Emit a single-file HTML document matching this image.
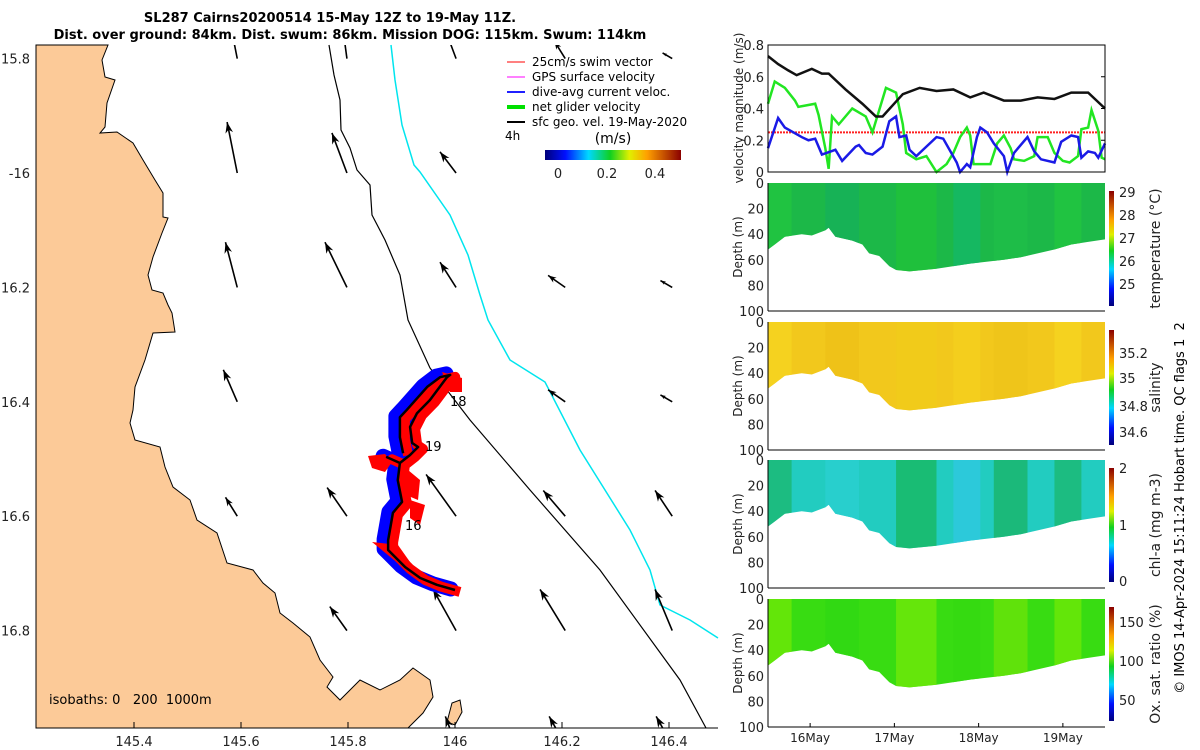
<!DOCTYPE html>
<html><head><meta charset="utf-8"><style>
body{margin:0;background:#fff;}
svg{display:block;font-family:"DejaVu Sans","Liberation Sans",sans-serif;}
</style></head><body>
<svg id="fig" width="1200" height="750" viewBox="0 0 1200 750">
<defs>
<linearGradient id="jetH" x1="0" x2="1" y1="0" y2="0">
<stop offset="0" stop-color="#00007a"/><stop offset="0.15" stop-color="#0010ff"/><stop offset="0.32" stop-color="#00d8ff"/><stop offset="0.48" stop-color="#10d020"/><stop offset="0.62" stop-color="#e0f000"/><stop offset="0.75" stop-color="#ffa000"/><stop offset="1" stop-color="#8a0000"/></linearGradient>
<linearGradient id="jetV" x1="0" x2="0" y1="1" y2="0">
<stop offset="0" stop-color="#00007a"/><stop offset="0.15" stop-color="#0010ff"/><stop offset="0.32" stop-color="#00d8ff"/><stop offset="0.48" stop-color="#10d020"/><stop offset="0.62" stop-color="#e0f000"/><stop offset="0.75" stop-color="#ffa000"/><stop offset="1" stop-color="#8a0000"/></linearGradient>
<clipPath id="mapClip"><rect x="36" y="45" width="682" height="683"/></clipPath>
</defs>
<g id="map"></g>
<g id="right"></g>
<text x="330" y="22" text-anchor="middle" font-size="13" font-weight="bold">SL287 Cairns20200514 15-May 12Z to 19-May 11Z.</text>
<text x="350" y="39" text-anchor="middle" font-size="13" font-weight="bold">Dist. over ground: 84km. Dist. swum: 86km. Mission DOG: 115km. Swum: 114km</text>
<text transform="translate(1184,508) rotate(-90)" text-anchor="middle" font-size="13">© IMOS 14-Apr-2024 15:11:24 Hobart time. QC flags 1&#160;&#160;2</text>
</svg>
<script>
// ---------- data ----------
const lonTicks=[145.4,145.6,145.8,146,146.2,146.4];
const latTicks=[15.8,16,16.2,16.4,16.6,16.8];
const latTickLabels=["15.8","-16","16.2","16.4","16.6","16.8"];
const trackLon=[146.000,145.966,145.935,145.907,145.875,145.875,145.884,145.901,145.893,145.897,145.873,145.897,145.916,145.931,145.920,145.916,145.929,145.953,145.985,145.991,145.972,145.948,145.910,145.897,145.897,145.903];
const trackLat=[16.729,16.720,16.708,16.689,16.659,16.642,16.594,16.575,16.537,16.507,16.497,16.507,16.493,16.479,16.472,16.444,16.420,16.397,16.357,16.353,16.357,16.374,16.414,16.427,16.462,16.490];
const quiverLon=[145.593,145.798,146.002,146.206,146.406];
const quiverLat=[15.8,16.0,16.2,16.4,16.6,16.8,17.0];
const quiverU=[[-0.019,-0.01,-0.02,-0.02,-0.018],[-0.019,-0.028,-0.03,0,0],[-0.022,-0.041,-0.03,-0.032,-0.022],[-0.026,0,0,-0.032,-0.022],[-0.022,-0.037,-0.056,-0.041,-0.032],[0,-0.032,-0.043,-0.047,-0.032],[0,0,-0.02,-0.03,-0.03]];
const quiverV=[[0.09,0.07,0.05,0.03,0.01],[0.089,0.07,0.037,0,0],[0.079,0.079,0.044,0.021,0.012],[0.056,0,0,0.021,0.012],[0.033,0.05,0.073,0.045,0.045],[0,0.042,0.072,0.072,0.072],[0,0,0.05,0.05,0.05]];
const velTicks=[0,0.2,0.4,0.6,0.8];
const dayTicks=[16,17,18,19];
const dayTickLabels=["16May","17May","18May","19May"];
const blackDay=[15.5,15.62,15.74,15.84,16.02,16.14,16.22,16.42,16.62,16.78,16.86,16.98,17.1,17.3,17.5,17.7,17.9,18.06,18.3,18.5,18.7,18.9,19.1,19.3,19.5];
const blackVel=[0.73,0.68,0.64,0.61,0.65,0.62,0.62,0.52,0.43,0.35,0.35,0.42,0.49,0.53,0.51,0.52,0.47,0.50,0.45,0.45,0.47,0.46,0.50,0.50,0.40];
const greenDay=[15.5,15.58,15.7,15.82,15.86,16.06,16.1,16.18,16.22,16.26,16.34,16.5,16.66,16.74,16.9,17.02,17.1,17.14,17.26,17.38,17.5,17.62,17.7,17.78,17.86,17.9,17.94,18.06,18.14,18.22,18.3,18.38,18.42,18.54,18.66,18.7,18.82,18.9,19.0,19.08,19.18,19.22,19.3,19.34,19.42,19.46,19.5];
const greenVel=[0.43,0.57,0.53,0.45,0.41,0.43,0.36,0.15,0.02,0.35,0.30,0.40,0.35,0.25,0.53,0.50,0.30,0.12,0.08,0.10,0.0,0.05,0.12,0.22,0.28,0.23,0.05,0.05,0.05,0.18,0.23,0.15,0.08,0.07,0.10,0.22,0.22,0.12,0.07,0.06,0.10,0.27,0.28,0.39,0.26,0.09,0.08];
const blueDay=[15.5,15.62,15.7,15.9,15.98,16.06,16.1,16.14,16.3,16.38,16.54,16.58,16.66,16.74,16.86,16.94,17.02,17.06,17.14,17.18,17.26,17.38,17.5,17.58,17.74,17.78,17.86,17.9,17.98,18.02,18.1,18.18,18.3,18.34,18.42,18.58,18.66,18.74,18.9,18.98,19.1,19.18,19.22,19.3,19.38,19.42,19.5];
const blueVel=[0.15,0.34,0.28,0.22,0.20,0.21,0.16,0.11,0.14,0.07,0.16,0.17,0.12,0.11,0.16,0.32,0.35,0.22,0.23,0.14,0.10,0.16,0.22,0.21,0.06,0.0,0.05,0.03,0.22,0.28,0.25,0.18,0.10,0.0,0.12,0.22,0.13,0.08,0.06,0.19,0.23,0.22,0.09,0.13,0.12,0.09,0.18];
const swimRef=[0.25];
const depthTicks=[0,20,40,60,80,100];
const bottomDay=[15.5,15.58,15.7,15.9,16.02,16.18,16.22,16.3,16.5,16.62,16.7,16.82,16.94,17.02,17.18,17.5,17.9,18.3,18.5,18.7,18.9,19.1,19.3,19.5];
const bottomDepth=[52,48,42,40,41,37,35,42,45,48,55,57,65,68,69,67,63,60,58,55,52,48,46,44];
// ---------- helpers ----------
const NS="http://www.w3.org/2000/svg";
function mk(tag,attrs,parent){const e=document.createElementNS(NS,tag);for(const k in attrs)e.setAttribute(k,attrs[k]);parent.appendChild(e);return e;}
const lx=lon=>455+(lon-146)*535;
const ly=lat=>173+(lat-16)*572;
const map=document.getElementById('map');
const right=document.getElementById('right');
// ---------- map ----------
const land="36,45 108,45 102,60 105,77 115,80 107,103 105,127 100,133 117,132 133,143 143,160 155,180 163,193 163,217 168,218 162,233 153,257 148,275 152,290 163,293 168,305 172,313 175,332 153,333 145,360 135,387 133,410 130,423 135,440 160,447 165,467 173,487 190,500 197,520 217,533 227,563 253,570 263,583 275,593 280,613 293,623 310,637 320,660 333,677 327,687 340,700 360,680 380,690 400,680 413,668 430,680 433,697 423,713 408,728 36,728";
let e=mk('polygon',{points:land,fill:'#fcca98',stroke:'#000','stroke-width':1},map);

e=mk('polygon',{points:"447,722 452,703 460,700 462,712 455,725",fill:'#fcca98',stroke:'#000','stroke-width':1},map);

e=mk('polyline',{points:"329,45 334,75 340,100 341,130 350,148 357,170 370,185 372,215 385,240 400,275 408,320 430,368 470,420 530,490 600,570 680,680 706,728",fill:'none',stroke:'#000','stroke-width':1.2},map);

e=mk('polyline',{points:"391,45 395,80 402,125 414,165 420,172 450,215 468,255 480,295 488,320 510,360 545,382 580,450 630,530 650,570 660,605 690,620 718,638",fill:'none',stroke:'#00e5ee','stroke-width':1.5},map);

// quiver
const qg=mk('g',{'clip-path':'url(#mapClip)'},map);

quiverLat.forEach((la,i)=>quiverLon.forEach((lo,j)=>{
  const u=quiverU[i][j],v=quiverV[i][j];if(u===0&&v===0)return;
  const x0=lx(lo),y0=ly(la),x1=x0+u*535,y1=y0-v*572;
  const a=mk('line',{x1:x0,y1:y0,x2:x1,y2:y1,stroke:'#000','stroke-width':1.6},qg);
  
  const L=Math.hypot(x1-x0,y1-y0),ux=(x1-x0)/L,uy=(y1-y0)/L,h=Math.min(11,L*0.4),w=h*0.35;
  const hp=mk('polygon',{points:`${x1},${y1} ${x1-ux*h-uy*w},${y1-uy*h+ux*w} ${x1-ux*h*0.7},${y1-uy*h*0.7} ${x1-ux*h+uy*w},${y1-uy*h-ux*w}`,fill:'#000'},qg);
  
}));
// track
const pts=(dx,dy)=>trackLon.map((lo,i)=>`${lx(lo)+dx},${ly(trackLat[i])+dy}`).join(' ');
e=mk('polyline',{points:pts(-4,-1),fill:'none',stroke:'#0000ff','stroke-width':15,'stroke-linejoin':'round','stroke-linecap':'round'},map);

e=mk('polyline',{points:pts(5,2),fill:'none',stroke:'#ff0000','stroke-width':10,'stroke-linejoin':'round'},map);

[["368,456 385,454 392,462 385,472 372,468"],["442,372 462,378 462,392 450,392"],["372,542 398,545 410,562 394,560"],["408,470 420,480 418,500 406,495"],["410,500 425,505 420,525 410,518"]].forEach(p=>{
 e=mk('polygon',{points:p[0],fill:'#ff0000'},map);
 });
e=mk('polyline',{points:pts(0,0),fill:'none',stroke:'#000','stroke-width':2.5,'stroke-linejoin':'round'},map);

[["16",405,530],["19",425,451],["18",450,406]].forEach(d=>{const t=mk('text',{x:d[1],y:d[2],'font-size':13},map);t.textContent=d[0];
});
lonTicks.forEach(v=>{const t=mk('text',{x:lx(v),y:746,'font-size':13,'text-anchor':'middle',fill:'#222'},map);t.textContent=String(v);

const tk=mk('line',{x1:lx(v),x2:lx(v),y1:728,y2:722,stroke:'#000'},map);});
latTicks.forEach((v,i)=>{const t=mk('text',{x:30,y:ly(v)+5,'font-size':13,'text-anchor':'end',fill:'#222'},map);t.textContent=latTickLabels[i];
});
e=mk('line',{x1:408,x2:718,y1:728,y2:728,stroke:'#000'},map);
e=mk('text',{x:49,y:704,'font-size':13},map);e.textContent="isobaths: 0\u00a0\u00a0 200\u00a0 1000m";
// legend
const leg=mk('g',{},map);
[["#ff0000","25cm/s swim vector",1],["#ff00ff","GPS surface velocity",1],["#2020ff","dive-avg current veloc.",2],["#00e000","net glider velocity",4],["#000","sfc geo. vel. 19-May-2020",2]].forEach((d,i)=>{
 const y=62+i*15;
 const l=mk('line',{x1:507,x2:525,y1:y,y2:y,stroke:d[0],'stroke-width':d[2]},leg);
 const t=mk('text',{x:532,y:y+4,'font-size':12},leg);t.textContent=d[1];});
e=mk('text',{x:505,y:140,'font-size':12},leg);e.textContent="4h";
e=mk('text',{x:613,y:143,'font-size':14,'text-anchor':'middle'},leg);e.textContent="(m/s)";
e=mk('rect',{x:545,y:150,width:136,height:10,fill:'url(#jetH)'},leg);
[["0",558],["0.2",607],["0.4",655]].forEach(d=>{const t=mk('text',{x:d[1],y:178,'font-size':13,'text-anchor':'middle',fill:'#222'},leg);t.textContent=d[0];
});
// ---------- right panels ----------
const X0=768,X1=1105;
const tx=d=>X0+(d-15.5)/4*(X1-X0);
const vy=v=>172-v/0.8*127;
const vp=mk('g',{},right);
e=mk('line',{x1:X0,x2:X1,y1:vy(swimRef[0]),y2:vy(swimRef[0]),stroke:'#ff2020','stroke-width':2,'stroke-dasharray':'2,1'},vp);
[[greenDay,greenVel,'#22e622','net-glider-speed-line'],[blueDay,blueVel,'#1a1ae6','dive-avg-current-line'],[blackDay,blackVel,'#111','surface-geostrophic-line']].forEach(s=>{
 const p=mk('polyline',{points:s[0].map((d,i)=>`${tx(d)},${vy(s[1][i])}`).join(' '),fill:'none',stroke:s[2],'stroke-width':2.5},vp);
 });
e=mk('rect',{x:X0,y:45,width:X1-X0,height:127,fill:'none',stroke:'#000'},vp);
velTicks.forEach(v=>{const t=mk('text',{x:764,y:vy(v)+5,'font-size':13,'text-anchor':'end',fill:'#222'},vp);t.textContent=String(v);

const k=mk('line',{x1:X1,x2:X1-4,y1:vy(v),y2:vy(v),stroke:'#000'},vp);});
e=mk('text',{transform:'translate(743,108) rotate(-90)','font-size':12,'text-anchor':'middle',fill:'#222'},vp);e.textContent="velocity magnitude (m/s)";
const panels=[
 {top:183,base:'#1cb848',stripes:['#22c640','#17b05a','#20c23a','#14b868','#1fbe48'],title:'temperature (°C)',ticks:[["29",192],["28",215],["27",238],["26",261],["25",284]],bar:[191,306],name:'temperature'},
 {top:322,base:'#f2c81c',stripes:['#f5d420','#eec018','#f0cc1a','#f4d01e','#edc41a'],title:'salinity',ticks:[["35.2",353],["35",378],["34.8",406],["34.6",432]],bar:[330,445],name:'salinity'},
 {top:460,base:'#22ccc0',stripes:['#1cb870','#2ad0d0','#18b860','#30c8e0','#1ab468'],title:'chl-a (mg m-3)',ticks:[["2",468],["1",525],["0",581]],bar:[468,582],name:'chlorophyll'},
 {top:599,base:'#38dc12',stripes:['#6ee808','#30d814','#70e80a','#34da12','#6ae40a'],title:'Ox. sat. ratio (%)',ticks:[["150",622],["100",661],["50",700]],bar:[607,721],name:'oxygen'}];
panels.forEach((P,pi)=>{
 const g=mk('g',{},right);
 const dy=d=>P.top+d/100*128;
 const cid='cp'+pi;const cp=mk('clipPath',{id:cid},g);
 mk('polygon',{points:`${X0},${dy(0)} ${X1},${dy(0)} `+bottomDay.slice().reverse().map((d,i)=>`${tx(d)},${dy(bottomDepth[bottomDepth.length-1-i])}`).join(' ')},cp);
 const fg=mk('g',{'clip-path':`url(#${cid})`},g);
 e=mk('rect',{x:X0,y:P.top,width:X1-X0,height:128,fill:P.base},fg);
 const sx=[[0,0.07],[0.17,0.1],[0.38,0.12],[0.55,0.08],[0.67,0.1],[0.85,0.08]];
 sx.forEach((s,i)=>{const r=mk('rect',{x:X0+s[0]*(X1-X0),y:P.top,width:s[1]*(X1-X0),height:128,fill:P.stripes[i%5],opacity:0.8},fg);
  });
 e=mk('polyline',{points:`${X0},${dy(100)} ${X0},${dy(0)}`,fill:'none',stroke:'#000'},g);
 
 e=mk('line',{x1:X0,x2:X1,y1:dy(100),y2:dy(100),stroke:'#000'},g);
 depthTicks.forEach(v=>{const t=mk('text',{x:764,y:dy(v)+5,'font-size':13,'text-anchor':'end',fill:'#222'},g);t.textContent=String(v);
  });
 e=mk('text',{transform:`translate(742,${P.top+64}) rotate(-90)`,'font-size':12,'text-anchor':'middle',fill:'#222'},g);e.textContent="Depth (m)";
 e=mk('rect',{x:1109,y:P.bar[0],width:5,height:P.bar[1]-P.bar[0],fill:'url(#jetV)'},g);
 P.ticks.forEach(t=>{const tt=mk('text',{x:1119,y:t[1]+5,'font-size':13,fill:'#222'},g);tt.textContent=t[0];
  });
 e=mk('text',{transform:`translate(1160,${(P.bar[0]+P.bar[1])/2}) rotate(-90)`,'font-size':14,'text-anchor':'middle',fill:'#222'},g);e.textContent=P.title;
});
dayTicks.forEach((d,i)=>{const t=mk('text',{x:tx(d),y:742,'font-size':12,'text-anchor':'middle',fill:'#222'},right);t.textContent=dayTickLabels[i];
 
 const k=mk('line',{x1:tx(d),x2:tx(d),y1:727,y2:723,stroke:'#000'},right);});
</script>
</body></html>
